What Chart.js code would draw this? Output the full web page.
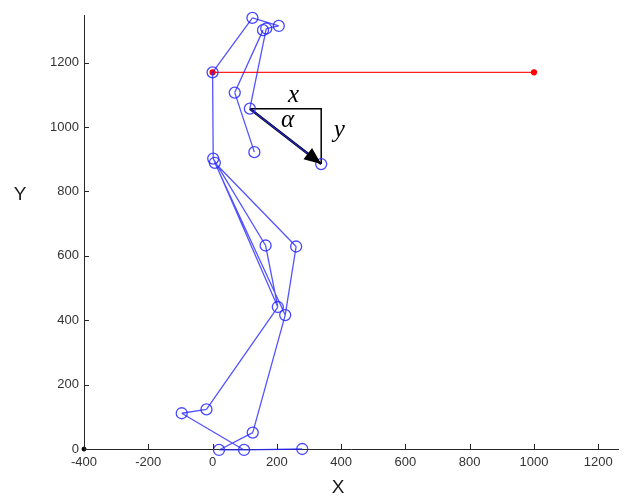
<!DOCTYPE html>
<html>
<head>
<meta charset="utf-8">
<script src="https://cdn.jsdelivr.net/npm/chart.js@4"></script>
<style>
  body { margin: 0; background: #fff; }
  canvas { display: block; }
</style>
</head>
<body>
<canvas id="skel" width="625" height="500"></canvas>
<script>
// joint positions (data units)
const jointNames = ['A','C','D1','D2','B','E','G','F','I1','I2','H','L','M','J','K','N','O','Q','R','P','S'];
const jointX = [124, 206, 157, 167,   0,   69,  116, 130,   2,   7, 338, 165, 260, 203, 226, -19, -96, 125, 20, 98, 279];
const jointY = [1339, 1314, 1301, 1306, 1170, 1107, 1057, 922, 902, 889, 885, 632, 629, 441, 416, 123, 111, 51, -3, -3, 0];

// bones as pairs of joint names
const boneFrom = ['A','A','C', 'D1','E','D2','G','B', 'I1','I2','I1','I2','L','M','J','N','O','K','Q','R','P'];
const boneTo   = ['B','C','D2','E', 'F','G', 'H','I1','J', 'K', 'L', 'M', 'J','K','N','O','P','Q','R','P','S'];

// red reference line
const refX = [0, 1000];
const refY = [1170, 1170];

// axis ticks
const xTicks = [-400, -200, 0, 200, 400, 600, 800, 1000, 1200];
const yTicks = [0, 200, 400, 600, 800, 1000, 1200];

const idx = n => jointNames.indexOf(n);
const pt = n => ({ x: jointX[idx(n)], y: jointY[idx(n)] });

const bonePts = [];
boneFrom.forEach((f, i) => {
  bonePts.push(pt(f), pt(boneTo[i]), { x: jointX[idx(f)], y: null });
});

const jointPts = jointX.map((x, i) => ({ x: x, y: jointY[i] }));
const refPts = refX.map((x, i) => ({ x: x, y: refY[i] }));

const G = pt('G'), H = pt('H');
const legPts = [G, { x: H.x, y: G.y }, H];

const extras = {
  id: 'extras',
  afterDraw(chart) {
    const c = chart.ctx, xs = chart.scales.x, ys = chart.scales.y;
    const a = chart.chartArea;
    c.save();
    // inward ticks
    c.strokeStyle = '#262626';
    c.lineWidth = 1;
    xTicks.forEach(v => {
      const p = Math.round(xs.getPixelForValue(v)) + 0.5;
      c.beginPath(); c.moveTo(p, a.bottom); c.lineTo(p, a.bottom - 5); c.stroke();
    });
    yTicks.forEach(v => {
      const p = Math.round(ys.getPixelForValue(v)) + 0.5;
      c.beginPath(); c.moveTo(a.left, p); c.lineTo(a.left + 5, p); c.stroke();
    });
    // arrow head at H
    const gx = xs.getPixelForValue(G.x), gy = ys.getPixelForValue(G.y);
    const hx = xs.getPixelForValue(H.x), hy = ys.getPixelForValue(H.y);
    const ang = Math.atan2(hy - gy, hx - gx);
    c.fillStyle = '#000';
    c.beginPath();
    c.moveTo(hx, hy);
    c.lineTo(hx - 17 * Math.cos(ang) + 7 * Math.sin(ang), hy - 17 * Math.sin(ang) - 7 * Math.cos(ang));
    c.lineTo(hx - 17 * Math.cos(ang) - 7 * Math.sin(ang), hy - 17 * Math.sin(ang) + 7 * Math.cos(ang));
    c.closePath(); c.fill();
    // math labels
    c.font = 'italic 25px "Liberation Serif"';
    c.textAlign = 'center';
    c.textBaseline = 'middle';
    c.fillText('x', (gx + hx) / 2 + 8, gy - 13);
    c.fillText('α', (gx + hx) / 2 + 2, gy + 12);
    c.fillText('y', hx + 18, (gy + hy) / 2 - 6);
    // axis titles
    c.fillStyle = '#1a1a1a';
    c.font = '19px "Liberation Sans"';
    c.fillText('X', 338, 488);
    c.fillText('Y', 20, 195);
    c.restore();
  }
};

const tickFont = { family: 'Liberation Sans', size: 13 };

new Chart(document.getElementById('skel'), {
  type: 'scatter',
  data: {
    datasets: [
      {
        data: bonePts, showLine: true, spanGaps: false,
        borderColor: 'rgba(40,40,255,0.8)', borderWidth: 1.3,
        pointRadius: 0, clip: false
      },
      {
        data: jointPts, showLine: false,
        pointRadius: 5.5, pointBorderWidth: 1.3,
        pointBorderColor: 'rgba(40,40,255,0.85)', pointBackgroundColor: 'rgba(0,0,0,0)',
        clip: false
      },
      {
        data: refPts, showLine: true,
        borderColor: '#ff2020', borderWidth: 1.2,
        pointRadius: 2.5, pointBackgroundColor: '#ff0000', pointBorderColor: '#ff0000'
      },
      {
        data: legPts, showLine: true,
        borderColor: '#000', borderWidth: 1.5, pointRadius: 0
      },
      {
        data: [G, H], showLine: true,
        borderColor: '#000', borderWidth: 2.5, pointRadius: 0
      },
      {
        data: [{ x: -400, y: 0 }], showLine: false,
        pointRadius: 2, pointBackgroundColor: '#000', pointBorderColor: '#000', clip: false
      }
    ]
  },
  options: {
    responsive: false,
    animation: false,
    devicePixelRatio: 1,
    layout: { padding: { top: 15, right: 0, left: 0, bottom: 0 } },
    plugins: { legend: { display: false }, tooltip: { enabled: false } },
    scales: {
      x: {
        type: 'linear', min: -400, max: 1262,
        afterFit: s => { s.height = 51; s.paddingLeft = 0; s.paddingRight = 0; },
        afterBuildTicks: s => { s.ticks = xTicks.map(v => ({ value: v })); },
        ticks: { font: tickFont, color: '#333', padding: 6, autoSkip: false, maxRotation: 0,
                 callback: v => String(v) },
        grid: { drawOnChartArea: false, drawTicks: false },
        border: { color: '#262626', width: 1 }
      },
      y: {
        type: 'linear', min: 0, max: 1348,
        afterFit: s => { s.width = 84; s.paddingTop = 0; s.paddingBottom = 0; },
        afterBuildTicks: s => { s.ticks = yTicks.map(v => ({ value: v })); },
        ticks: { font: tickFont, color: '#333', padding: 5, autoSkip: false,
                 callback: v => String(v) },
        grid: { drawOnChartArea: false, drawTicks: false },
        border: { color: '#262626', width: 1 }
      }
    }
  },
  plugins: [extras]
});
</script>
</body>
</html>
